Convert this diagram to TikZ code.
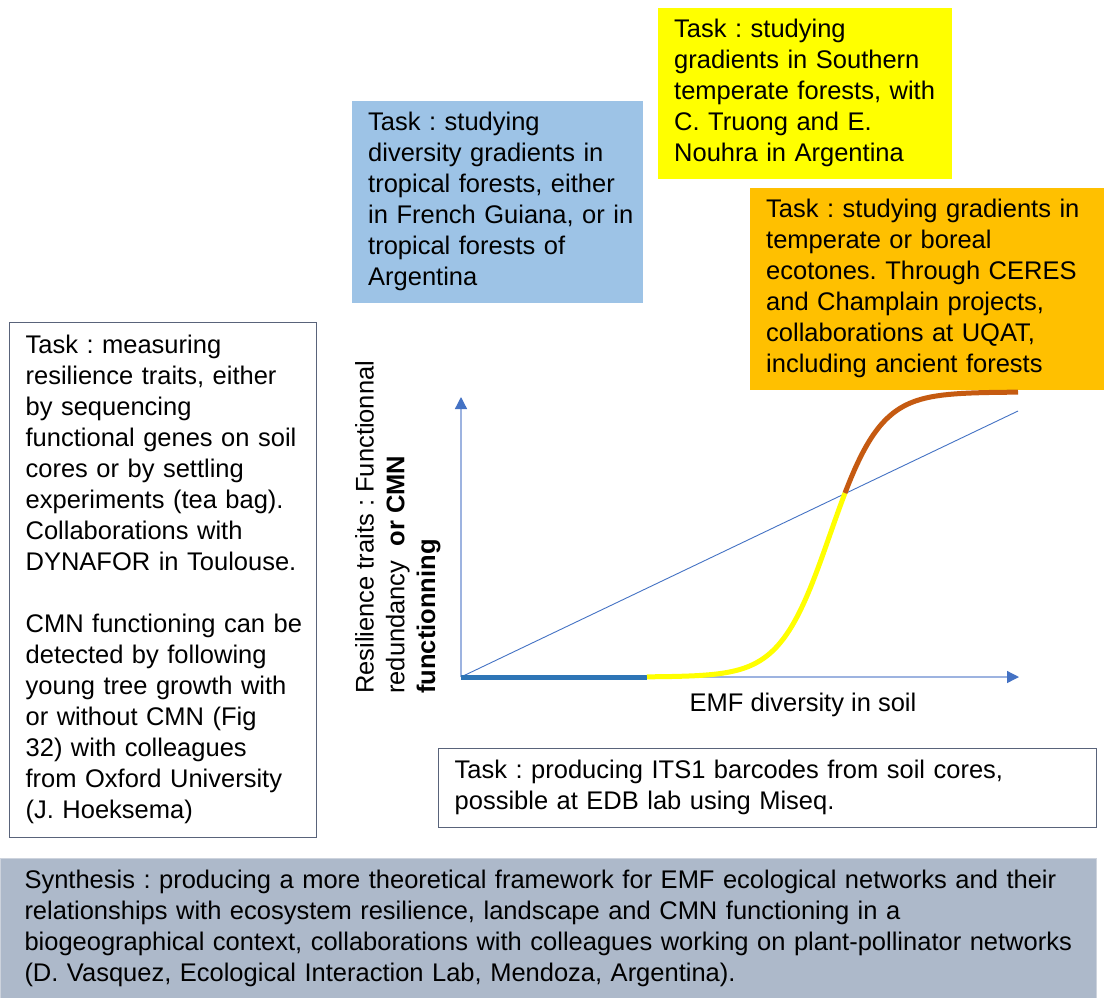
\documentclass[tikz,border=0pt]{standalone}
\usepackage{fontspec}
\setmainfont{Liberation Sans}
\usetikzlibrary{arrows.meta}
\definecolor{taskyellow}{HTML}{FFFF00}
\definecolor{taskblue}{HTML}{9DC3E6}
\definecolor{taskorange}{HTML}{FFC000}
\definecolor{synthfill}{HTML}{ADB9CA}
\definecolor{synthline}{HTML}{CDD3DD}
\definecolor{boxline}{HTML}{59637A}
\definecolor{axisline}{HTML}{9DB3E0}
\definecolor{axistip}{HTML}{4472C4}
\definecolor{lowblue}{HTML}{2E75B6}
\definecolor{highbrown}{HTML}{C55A11}
\newcommand{\boxlines}[1]{\begin{tabular}{@{}l@{}}#1\end{tabular}}
\tikzset{
    task/.style={anchor=north west, inner xsep=16pt, inner ysep=0pt, align=left,
        font=\fontsize{25.5}{31}\selectfont\frenchspacing}, % coloured task boxes
    taskframed/.style={task, draw=boxline, line width=1.3pt}, % white boxes with a frame
    axis/.style={draw=axisline, line width=1.3pt, -{Triangle[length=12pt, width=12pt, color=axistip]}},
    trend/.style={draw=axistip, line width=0.9pt},
    curve/.style={line width=5pt},
}

\begin{document}
\begin{tikzpicture}[x=1pt, y=-1pt]
    \useasboundingbox (0,0) rectangle (1104,997);
    \fill[white] (0,0) rectangle (1104,997);

    % task boxes
    \node[task, fill=taskyellow, text width=262pt, minimum height=171pt] (southtask) at (658,8)
        {\boxlines{Task : studying\\ gradients in Southern\\ temperate forests, with\\ C. Truong and E.\\ Nouhra in Argentina}};
    \node[task, fill=taskblue, text width=259pt, minimum height=202pt] (tropictask) at (352,101)
        {\boxlines{Task : studying\\ diversity gradients in\\ tropical forests, either\\ in French Guiana, or in\\ tropical forests of\\ Argentina}};
    \node[task, fill=taskorange, text width=322pt, minimum height=202pt] (borealtask) at (750,188)
        {\boxlines{Task : studying gradients in\\ temperate or boreal\\ ecotones. Through CERES\\ and Champlain projects,\\ collaborations at UQAT,\\ including ancient forests}};
    \node[taskframed, text width=275pt, minimum height=515pt] (traittask) at (9,322)
        {\boxlines{Task : measuring\\ resilience traits, either\\ by sequencing\\ functional genes on soil\\ cores or by settling\\ experiments (tea bag).\\ Collaborations with\\ DYNAFOR in Toulouse.\\ \\ CMN functioning can be\\ detected by following\\ young tree growth with\\ or without CMN (Fig\\ 32) with colleagues\\ from Oxford University\\ (J. Hoeksema)}};
    \node[taskframed, text width=626pt, minimum height=79pt] (barcodetask) at (438,748)
        {\boxlines{Task : producing ITS1 barcodes from soil cores,\\ possible at EDB lab using Miseq.}};
    \node[task, inner xsep=24pt, fill=synthfill, draw=synthline, line width=1pt, text width=1048pt, minimum height=141pt] (synthesis) at (0,858)
        {\boxlines{Synthesis : producing a more theoretical framework for EMF ecological networks and their\\ relationships with ecosystem resilience, landscape and CMN functioning in a\\ biogeographical context, collaborations with colleagues working on plant-pollinator networks\\ (D. Vasquez, Ecological Interaction Lab, Mendoza, Argentina).}};

    % graph
    \coordinate (origin) at (461,677);
    \coordinate (ytop) at (461,397);
    \coordinate (xend) at (1019,677);
    \coordinate (bluestop) at (647,677);
    \coordinate (trendend) at (1018,411);

    \draw[axis] (origin) -- (ytop);
    \draw[axis] (origin) -- (xend);
    \draw[trend] (origin) -- (trendend);
    \draw[curve, lowblue] (origin) -- (bluestop);
    \draw[curve, taskyellow] plot[domain=647:845, samples=80] (\x, {677-285/(1+exp(-0.04*(\x-830)))});
    \draw[curve, highbrown] plot[domain=845:1018, samples=80] (\x, {677-285/(1+exp(-0.04*(\x-830)))});

    \node[rotate=90, anchor=north west, inner sep=0pt, align=left, font=\fontsize{25.5}{30.7}\selectfont\frenchspacing] (ylabel) at (355,694)
        {Resilience traits : Functionnal\\ redundancy\ \ \textbf{or CMN}\\ \textbf{functionning}};
    \node[inner sep=0pt, font=\fontsize{25.5}{31}\selectfont] (xlabel) at (803,705) {EMF diversity in soil};
\end{tikzpicture}
\end{document}
